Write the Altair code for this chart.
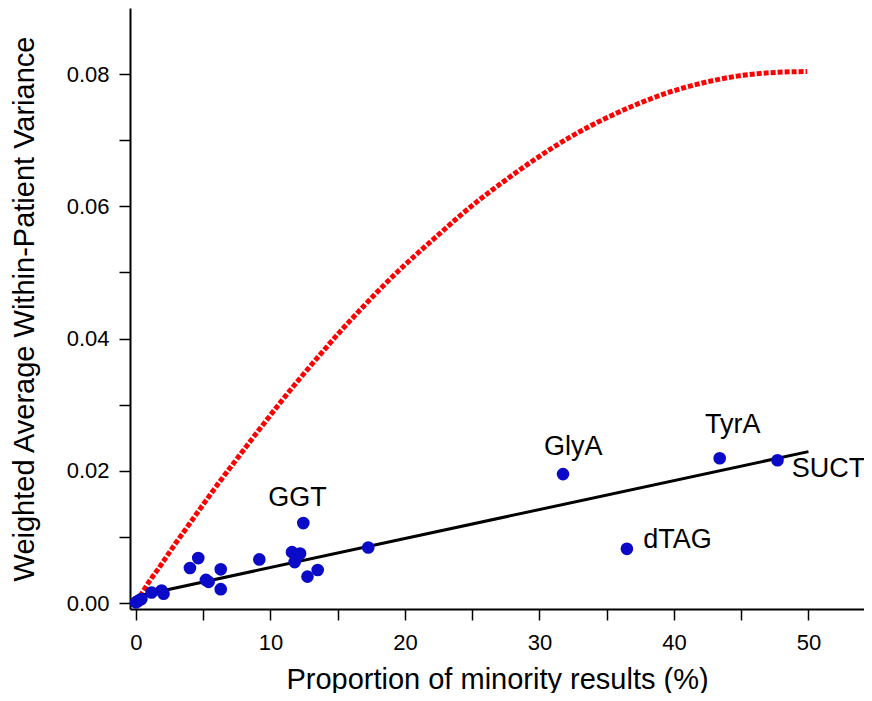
import altair as alt
import pandas as pd

# Red curve
red_x = [0.3, 1.0, 1.7, 2.3, 2.9, 3.6, 4.4, 5.1, 6.2, 7.5, 9.0, 10.8, 12.2, 13.7, 15.2,
         16.7, 18.1, 19.6, 21.1, 22.6, 24.1, 25.6, 27.3, 29.8, 32.3, 34.7, 37.2, 39.7,
         42.2, 44.7, 47.1, 49.9]
red_y = [0.0010, 0.0033, 0.0053, 0.0071, 0.0089, 0.0109, 0.0132, 0.0152, 0.0183, 0.0218,
         0.0258, 0.0305, 0.0340, 0.0376, 0.0411, 0.0444, 0.0474, 0.0504, 0.0532, 0.0559,
         0.0586, 0.0611, 0.0637, 0.0673, 0.0705, 0.0731, 0.0754, 0.0773, 0.0787, 0.0797,
         0.0802, 0.0804]

# Black fitted line
fit_x = [0.0, 50.0]
fit_y = [0.0010, 0.0229]

# Blue points
pt_x = [0.0, 0.15, 0.4, 1.16, 1.9, 2.05, 4.01, 4.63, 5.2, 5.4, 6.30, 6.30, 9.17, 11.6,
        11.8, 12.2, 12.44, 12.75, 13.51, 17.27, 31.75, 36.5, 43.4, 47.7]
pt_y = [0.0001, 0.0003, 0.0006, 0.0016, 0.0019, 0.0014, 0.0053, 0.0068, 0.0035, 0.0032,
        0.0051, 0.0021, 0.0066, 0.0077, 0.0062, 0.0075, 0.0121, 0.0040, 0.0050, 0.0084,
        0.0195, 0.0082, 0.0219, 0.0216]

# Labels
lab_text = ["GGT", "GlyA", "TyrA", "SUCT", "dTAG"]
lab_x = [9.84, 30.33, 42.3, 48.75, 37.72]
lab_y = [0.01467, 0.02238, 0.02566, 0.0190, 0.00827]

x_ticks = [0, 5, 10, 15, 20, 25, 30, 35, 40, 45, 50]
y_ticks = [0.0, 0.01, 0.02, 0.03, 0.04, 0.05, 0.06, 0.07, 0.08]

red_df = pd.DataFrame({"x": red_x, "y": red_y})
fit_df = pd.DataFrame({"x": fit_x, "y": fit_y})
pt_df = pd.DataFrame({"x": pt_x, "y": pt_y})
lab_df = pd.DataFrame({"x": lab_x, "y": lab_y, "t": lab_text})

FONT = "Liberation Sans"

xscale = alt.Scale(domain=[-0.446, 54.13], nice=False, zero=False)
yscale = alt.Scale(domain=[-0.0009, 0.0900], nice=False, zero=False)

xenc = alt.X("x:Q", scale=xscale, axis=alt.Axis(
    title="Proportion of minority results (%)",
    values=x_ticks,
    labelExpr="datum.value % 10 == 0 ? datum.label : ''",
    labelPadding=12, titleY=79, titleBaseline="alphabetic"))
yenc = alt.Y("y:Q", scale=yscale, axis=alt.Axis(
    title="Weighted Average Within-Patient Variance",
    values=y_ticks,
    labelExpr="round(datum.value*100) % 2 == 0 ? format(datum.value, '.2f') : ''",
    labelPadding=10, titleX=-97, titleBaseline="alphabetic"))

red = alt.Chart(red_df).mark_line(
    color="#FF0000", strokeWidth=5, strokeDash=[5, 2], interpolate="monotone"
).encode(x=xenc, y=yenc)

fit = alt.Chart(fit_df).mark_line(color="black", strokeWidth=3).encode(x="x:Q", y="y:Q")

pts = alt.Chart(pt_df).mark_circle(color="#0A0AC8", size=160, opacity=1).encode(
    x="x:Q", y="y:Q")

labs = alt.Chart(lab_df).mark_text(
    align="left", baseline="alphabetic", fontSize=27, font=FONT, color="black"
).encode(x="x:Q", y="y:Q", text="t:N")

chart = alt.layer(red, fit, pts, labs).properties(
    width=734, height=601,
    autosize=alt.AutoSizeParams(type="none"),
    padding={"left": 122, "top": 0, "right": 0, "bottom": 84},
).configure_view(stroke=None).configure_axis(
    grid=False, domainColor="black", domainWidth=2, tickColor="black",
    tickWidth=1.5, tickSize=11, labelColor="black", titleColor="black",
    labelFont=FONT, titleFont=FONT, labelFontSize=22, titleFontSize=29,
    titleFontWeight="normal",
)

chart.save("out.html", embed_options={"renderer": "svg", "actions": False})
